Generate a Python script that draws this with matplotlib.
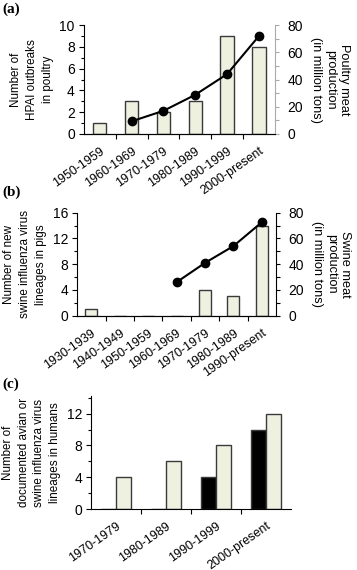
import matplotlib
matplotlib.use("Agg")
import matplotlib.pyplot as plt
import numpy as np
from matplotlib.ticker import MultipleLocator, FixedLocator

plt.rcParams['font.family'] = ['Liberation Sans', 'DejaVu Sans']
plt.rcParams['font.size'] = 9

# Panel (a)
cats_a = ["1950-1959", "1960-1969", "1970-1979", "1980-1989", "1990-1999", "2000-present"]
hpai_outbreaks = [1, 3, 2, 3, 9, 8]
poultry_idx = [1, 2, 3, 4, 5]
poultry_meat = [9.3, 17, 28.8, 44, 72]

# Panel (b)
cats_b = ["1930-1939", "1940-1949", "1950-1959", "1960-1969", "1970-1979", "1980-1989", "1990-present"]
swine_lineages = [1, 0, 0, 0, 4, 3, 14]
swine_idx = [3, 4, 5, 6]
swine_meat = [26, 41, 54, 72.5]

# Panel (c)
cats_c = ["1970-1979", "1980-1989", "1990-1999", "2000-present"]
avian_human = [0, 0, 4, 10]
swine_human = [4, 6, 8, 12]

BAR_FC = "#EEF0E0"
EDGE = "#3a3a3a"
YTICK_FS = 10
XTICK_FS = 9
LEFT_LAB_FS = 8.4
RIGHT_LAB_FS = 9.2

fig = plt.figure(figsize=(3.57, 5.70), dpi=100)

def setup_x(ax, cats):
    n = len(cats)
    ax.set_xlim(-0.5, n - 0.5)
    ax.set_xticks(np.arange(n))
    ax.set_xticklabels(cats, rotation=35, ha='right', rotation_mode='anchor', fontsize=XTICK_FS)
    ax.tick_params(axis='x', which='major', length=0, pad=8)
    ax.xaxis.set_minor_locator(FixedLocator(np.arange(0.5, n - 0.5, 1.0)))
    ax.tick_params(axis='x', which='minor', length=3.5, direction='out', width=0.8)
    ax.spines['top'].set_visible(False)
    for s in ax.spines.values():
        s.set_linewidth(0.8)

def style_y(ax):
    ax.tick_params(axis='y', which='major', length=3.5, width=0.8, direction='out', pad=3, labelsize=YTICK_FS)
    ax.tick_params(axis='y', which='minor', length=2.5, width=0.8, direction='out')

# ---- (a)
ax1 = fig.add_axes([0.235, 0.765, 0.535, 0.191])
x = np.arange(len(cats_a))
ax1.bar(x, hpai_outbreaks, width=0.42, color=BAR_FC, edgecolor=EDGE, linewidth=1.0, zorder=2)
ax1.set_ylim(0, 10)
ax1.yaxis.set_major_locator(MultipleLocator(2))
ax1.yaxis.set_minor_locator(MultipleLocator(1))
setup_x(ax1, cats_a)
style_y(ax1)
ax1.spines['right'].set_visible(False)
ax1.set_ylabel("Number of\nHPAI outbreaks\nin poultry", fontsize=LEFT_LAB_FS, labelpad=4, linespacing=1.45)
ax1r = ax1.twinx()
ax1r.plot(poultry_idx, poultry_meat, color='black', lw=1.5, marker='o', ms=6, zorder=3)
ax1r.set_ylim(0, 80)
ax1r.yaxis.set_major_locator(MultipleLocator(20))
ax1r.yaxis.set_minor_locator(MultipleLocator(10))
for s in ['top', 'left']:
    ax1r.spines[s].set_visible(False)
ax1r.spines['right'].set_color('#AAAAAA')
ax1r.spines['right'].set_linewidth(0.8)
ax1r.tick_params(axis='y', which='both', colors='#AAAAAA', labelcolor='black', length=3, width=0.8,
                 direction='out', pad=6, labelsize=YTICK_FS)
ax1r.set_ylabel("Poultry meat\nproduction\n(in million tons)", rotation=-90, va='bottom',
                fontsize=RIGHT_LAB_FS, labelpad=5, linespacing=1.2)

# ---- (b)
ax2 = fig.add_axes([0.216, 0.446, 0.557, 0.181])
x = np.arange(len(cats_b))
ax2.bar(x, swine_lineages, width=0.42, color=BAR_FC, edgecolor=EDGE, linewidth=1.0, zorder=2)
ax2.set_ylim(0, 16)
ax2.yaxis.set_major_locator(MultipleLocator(4))
ax2.yaxis.set_minor_locator(MultipleLocator(2))
setup_x(ax2, cats_b)
style_y(ax2)
ax2.spines['right'].set_visible(False)
ax2.set_ylabel("Number of new\nswine influenza virus\nlineages in pigs", fontsize=LEFT_LAB_FS, labelpad=4, linespacing=1.45)
ax2r = ax2.twinx()
ax2r.plot(swine_idx, swine_meat, color='black', lw=1.5, marker='o', ms=6, zorder=3)
ax2r.set_ylim(0, 80)
ax2r.yaxis.set_major_locator(MultipleLocator(20))
ax2r.yaxis.set_minor_locator(MultipleLocator(10))
for s in ['top', 'left']:
    ax2r.spines[s].set_visible(False)
ax2r.spines['right'].set_linewidth(0.8)
ax2r.tick_params(axis='y', which='both', length=3, width=0.8, direction='out', pad=6, labelsize=YTICK_FS)
ax2r.set_ylabel("Swine meat\nproduction\n(in million tons)", rotation=-90, va='bottom',
                fontsize=RIGHT_LAB_FS, labelpad=5, linespacing=1.2)

# ---- (c)
ax3 = fig.add_axes([0.255, 0.107, 0.560, 0.198])
x = np.arange(len(cats_c))
w = 0.3
ax3.bar(x - w / 2, avian_human, width=w, color='black', edgecolor=EDGE, linewidth=1.0, zorder=2)
ax3.bar(x + w / 2, swine_human, width=w, color=BAR_FC, edgecolor=EDGE, linewidth=1.0, zorder=2)
ax3.set_ylim(0, 14.2)
ax3.yaxis.set_major_locator(MultipleLocator(4))
ax3.yaxis.set_minor_locator(MultipleLocator(2))
setup_x(ax3, cats_c)
style_y(ax3)
ax3.spines['right'].set_visible(False)
ax3.set_ylabel("Number of\ndocumented avian or\nswine influenza virus\nlineages in humans",
               fontsize=LEFT_LAB_FS, labelpad=4, linespacing=1.4)

for lab, y in [("(a)", 0.995), ("(b)", 0.674), ("(c)", 0.338)]:
    fig.text(0.006, y, lab, fontsize=11, fontweight='bold', family='Liberation Serif', va='top', ha='left')

fig.savefig("out.png", dpi=100)
